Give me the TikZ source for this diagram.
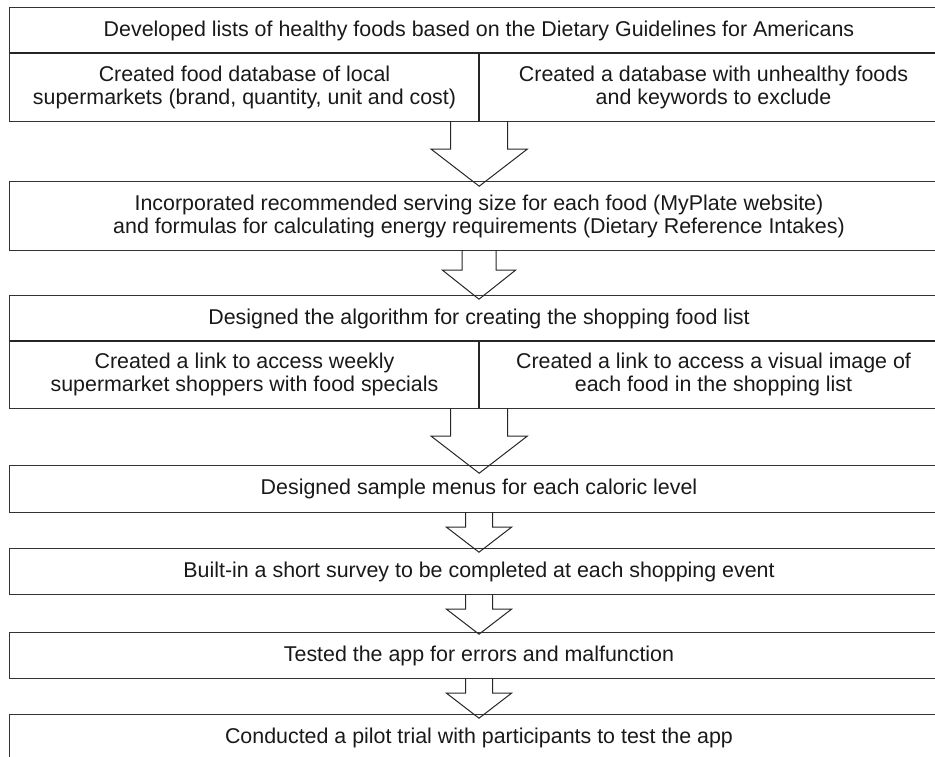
\documentclass[tikz,border=0pt]{standalone}
\usepackage{fontspec}
\setmainfont{Liberation Sans}
\usetikzlibrary{positioning}
\tikzset{
  cell/.style={inner sep=0pt, align=center, text=black!90, font=\fontsize{21.4}{23}\selectfont},
  wide/.style={cell, minimum width=938pt, minimum height=#1},
  half/.style={cell, minimum width=469pt, minimum height=#1},
  frame/.style={draw=black!80, line width=1pt},
  divider/.style={draw=black!85, line width=1.6pt},
  flow/.style={draw=black!85, line width=1pt, line join=miter}
}
\begin{document}
\begin{tikzpicture}[x=1pt,y=-1pt]
\clip (0,0) rectangle (935,757);
\node[wide=45pt] (lists) at (479,30.5) {Developed lists of healthy foods based on the Dietary Guidelines for Americans};
\node[half=68pt] (dbfood) at (244.5,87) {Created food database of local\\supermarkets (brand, quantity, unit and cost)};
\node[half=68pt] (dbbad) at (713.5,87) {Created a database with unhealthy foods\\and keywords to exclude};
\draw[frame] (lists.north west) rectangle (dbbad.south east);
\draw[divider] (lists.south west) -- (lists.south east);
\draw[divider] (dbfood.north east) -- (dbfood.south east);
\node[wide=68pt] (serving) at (479,216) {Incorporated recommended serving size for each food (MyPlate website)\\and formulas for calculating energy requirements (Dietary Reference Intakes)};
\draw[frame] (serving.north west) rectangle (serving.south east);
\node[wide=45pt] (algo) at (479,318.5) {Designed the algorithm for creating the shopping food list};
\node[half=67pt] (weekly) at (244.5,374.5) {Created a link to access weekly\\supermarket shoppers with food specials};
\node[half=67pt] (image) at (713.5,374.5) {Created a link to access a visual image of\\each food in the shopping list};
\draw[frame] (algo.north west) rectangle (image.south east);
\draw[divider] (algo.south west) -- (algo.south east);
\draw[divider] (weekly.north east) -- (weekly.south east);
\node[wide=46pt] (menus) at (479,489) {Designed sample menus for each caloric level};
\draw[frame] (menus.north west) rectangle (menus.south east);
\node[wide=45pt] (survey) at (479,571.5) {Built-in a short survey to be completed at each shopping event};
\draw[frame] (survey.north west) rectangle (survey.south east);
\node[wide=45pt] (tested) at (479,655.5) {Tested the app for errors and malfunction};
\draw[frame] (tested.north west) rectangle (tested.south east);
\node[wide=45pt] (pilot) at (479,737.5) {Conducted a pilot trial with participants to test the app};
\draw[frame] (pilot.north west) rectangle (pilot.south east);
\draw[flow] (dbfood.south east) ++(-28.5,0) -- ++(0,28) -- ++(-19.5,0) -- ++(48,37) -- ++(48,-37) -- ++(-19.5,0) -- ++(0,-28);
\draw[flow] (serving.south) ++(-17,0) -- ++(0,20) -- ++(-19.5,0) -- ++(36.5,29) -- ++(36.5,-29) -- ++(-19.5,0) -- ++(0,-20);
\draw[flow] (weekly.south east) ++(-28.5,0) -- ++(0,28) -- ++(-19.5,0) -- ++(48,37) -- ++(48,-37) -- ++(-19.5,0) -- ++(0,-28);
\draw[flow] (menus.south) ++(-13.5,0) -- ++(0,15) -- ++(-19,0) -- ++(32.5,25) -- ++(32.5,-25) -- ++(-19,0) -- ++(0,-15);
\draw[flow] (survey.south) ++(-13.5,0) -- ++(0,15) -- ++(-19,0) -- ++(32.5,25) -- ++(32.5,-25) -- ++(-19,0) -- ++(0,-15);
\draw[flow] (tested.south) ++(-13.5,0) -- ++(0,15) -- ++(-19,0) -- ++(32.5,25) -- ++(32.5,-25) -- ++(-19,0) -- ++(0,-15);
\end{tikzpicture}
\end{document}
